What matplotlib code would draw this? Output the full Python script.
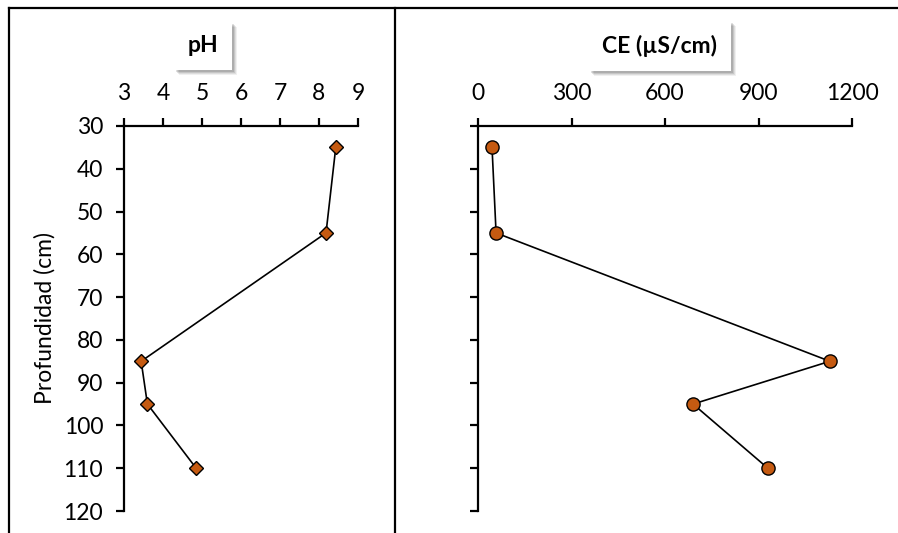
import matplotlib.pyplot as plt
from matplotlib.lines import Line2D
from matplotlib.patches import Rectangle

plt.rcParams['font.family'] = ['Lato', 'DejaVu Sans']

depth = [35, 55, 85, 95, 110]
ph = [8.43, 8.18, 3.44, 3.6, 4.85]
ce = [45, 58, 1129, 690, 930]

depth_ticks = [30, 40, 50, 60, 70, 80, 90, 100, 110, 120]
ph_ticks = [3, 4, 5, 6, 7, 8, 9]
ce_ticks = [0, 300, 600, 900, 1200]

orange = '#C55A11'
W, H = 898, 533
FS = 16.5

fig = plt.figure(figsize=(W / 100, H / 100), dpi=100)
ax1 = fig.add_axes([124 / W, 1 - 511 / H, (358 - 124) / W, (511 - 126) / H])
ax2 = fig.add_axes([478 / W, 1 - 511 / H, (852 - 478) / W, (511 - 126) / H])


def style(ax, xt, labels_y):
    ax.set_ylim(120, 30)
    ax.set_yticks(depth_ticks)
    ax.set_xticks(xt)
    ax.set_xlim(xt[0], xt[-1])
    ax.xaxis.tick_top()
    for s in ('right', 'bottom'):
        ax.spines[s].set_visible(False)
    for s in ('left', 'top'):
        ax.spines[s].set_linewidth(1.6)
    ax.tick_params(axis='both', direction='out', length=6, width=1.6,
                   labelsize=FS)
    ax.tick_params(axis='y', pad=9)
    ax.tick_params(axis='x', pad=10)
    if not labels_y:
        ax.set_yticklabels([])


style(ax1, ph_ticks, True)
style(ax2, ce_ticks, False)

ax1.plot(ph, depth, color='black', lw=1.2, marker='D', ms=7.5,
         mfc=orange, mec='black', mew=1.0, clip_on=False)
ax2.plot(ce, depth, color='black', lw=1.2, marker='o', ms=9.5,
         mfc=orange, mec='black', mew=1.0, clip_on=False)

ax1.set_ylabel('Profundidad (cm)', fontsize=FS, labelpad=6)

titles = [
    fig.text(203 / W, 1 - 46 / H, 'pH', ha='center', va='center',
             fontsize=FS, fontweight='bold', zorder=5,
             bbox=dict(boxstyle='square,pad=0.6', fc='white', ec='none')),
    fig.text(660 / W, 1 - 46 / H, 'CE (µS/cm)', ha='center', va='center',
             fontsize=FS, fontweight='bold', zorder=5,
             bbox=dict(boxstyle='square,pad=0.6', fc='white', ec='none')),
]

# soft drop shadow under each title box
fig.canvas.draw()
inv = fig.transFigure.inverted()
for t in titles:
    bb = t.get_bbox_patch().get_window_extent()
    for off, a in [(5, 0.06), (4, 0.08), (3, 0.10), (2, 0.12)]:
        x0, y0 = inv.transform((bb.x0 + off, bb.y0 - off))
        x1, y1 = inv.transform((bb.x1 + off, bb.y1 - off))
        fig.add_artist(Rectangle((x0, y0), x1 - x0, y1 - y0,
                                 transform=fig.transFigure, fc='black',
                                 ec='none', alpha=a, zorder=4))

# frame lines: top edge, left edge, divider between panels
fig.add_artist(Line2D([9 / W, 1], [1 - 8 / H, 1 - 8 / H], color='black',
                      lw=1.6, transform=fig.transFigure))
fig.add_artist(Line2D([9 / W, 9 / W], [0, 1 - 8 / H], color='black',
                      lw=1.6, transform=fig.transFigure))
fig.add_artist(Line2D([395 / W, 395 / W], [0, 1 - 8 / H], color='black',
                      lw=1.6, transform=fig.transFigure))

fig.savefig('out.png', dpi=100)
